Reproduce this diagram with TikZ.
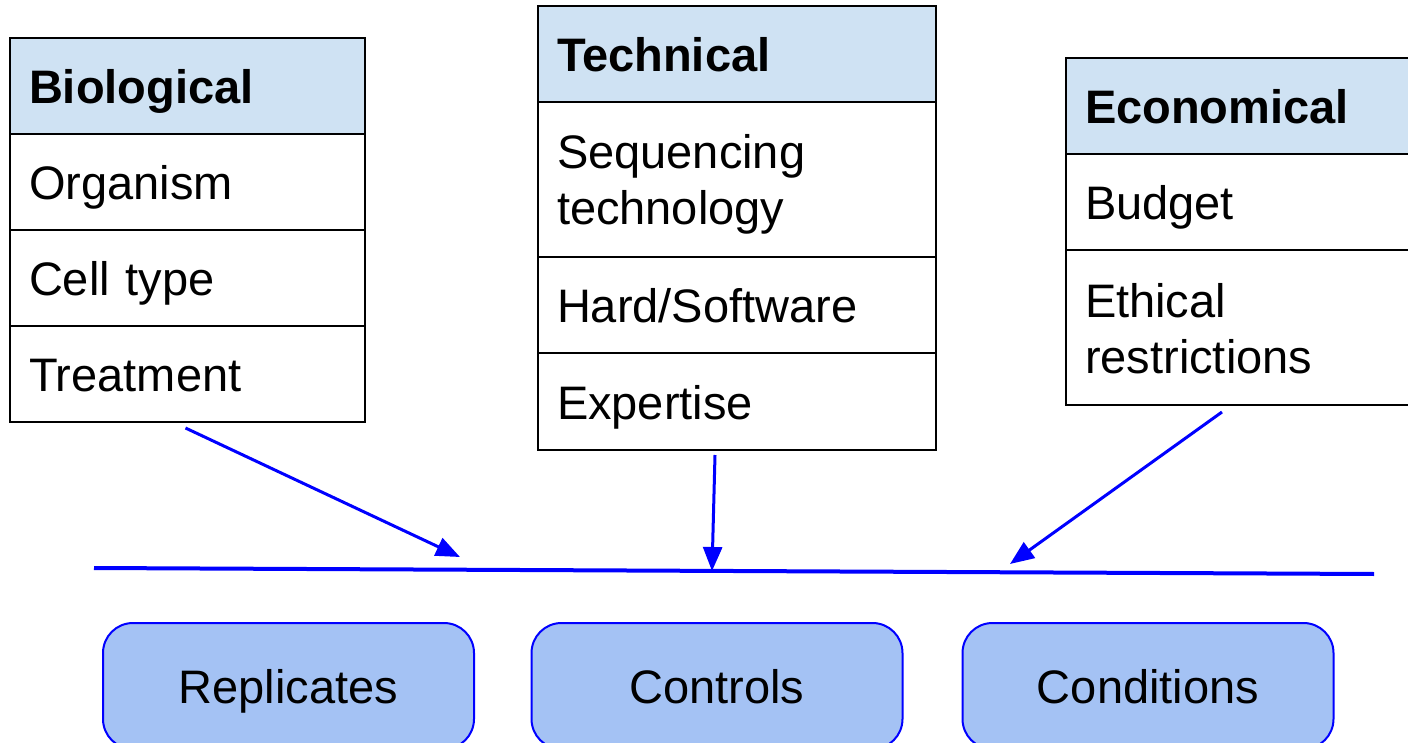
\documentclass[tikz,border=0pt]{standalone}
\usepackage{fontspec}
\setmainfont{Liberation Sans}
\usetikzlibrary{positioning,arrows.meta}
\definecolor{headfill}{HTML}{CFE2F3}
\definecolor{boxfill}{HTML}{A4C2F4}
\newcommand{\cellstrut}{\rule[-10pt]{0pt}{55pt}}
\tikzset{
  cell/.style={draw=black, line width=1.5pt, outer sep=0pt, inner xsep=19pt,
    minimum height=96pt, align=left, font=\fontsize{47}{56}\selectfont,
    execute at begin node=\cellstrut, execute at end node=\cellstrut},
  head/.style={cell, fill=headfill, font=\fontsize{47}{56}\selectfont\bfseries},
  outbox/.style={draw=blue, line width=2pt, fill=boxfill, rounded corners=30pt,
    minimum width=371pt, minimum height=126pt, font=\fontsize{47}{56}\selectfont,
    execute at begin node=\cellstrut},
  feed/.style={draw=blue, line width=3pt, -{Triangle[length=24pt,width=19pt]}},
}
\begin{document}
\begin{tikzpicture}[x=1pt,y=-1pt]
\useasboundingbox (0,0) rectangle (1408,743);

% Biological
\node[head, text width=317pt, anchor=north west] (bio) at (10,38) {Biological};
\node[cell, text width=317pt, below=0pt of bio] (bio1) {Organism};
\node[cell, text width=317pt, below=0pt of bio1] (bio2) {Cell type};
\node[cell, text width=317pt, below=0pt of bio2] (bio3) {Treatment};

% Technical
\node[head, text width=360pt, anchor=north west] (tech) at (538,6) {Technical};
\node[cell, text width=360pt, minimum height=155pt, below=0pt of tech] (tech1) {Sequencing\\technology};
\node[cell, text width=360pt, below=0pt of tech1] (tech2) {Hard/Software};
\node[cell, text width=360pt, minimum height=97pt, below=0pt of tech2] (tech3) {Expertise};

% Economical
\node[head, text width=316pt, anchor=north west] (eco) at (1066,58) {Economical};
\node[cell, text width=316pt, below=0pt of eco] (eco1) {Budget};
\node[cell, text width=316pt, minimum height=155pt, below=0pt of eco1] (eco2) {Ethical\\restrictions};

% line and arrows
\coordinate (lineL) at (94,568);
\coordinate (lineR) at (1374,574);
\draw[draw=blue, line width=4pt] (lineL) -- (lineR);
\coordinate (bioEnd) at (460,557);
\coordinate (techEnd) at (712,571);
\coordinate (ecoEnd) at (1010,564);
\draw[feed] ([shift={(-2,6)}]bio3.south) -- (bioEnd);
\draw[feed] ([shift={(-22,5)}]tech3.south) -- (techEnd);
\draw[feed] ([shift={(-21,7)}]eco2.south) -- (ecoEnd);

% outcomes
\node[outbox] (rep) at (288.5,686) {Replicates};
\node[outbox] (ctrl) at (717,686) {Controls};
\node[outbox] (cond) at (1148,686) {Conditions};

\end{tikzpicture}
\end{document}
